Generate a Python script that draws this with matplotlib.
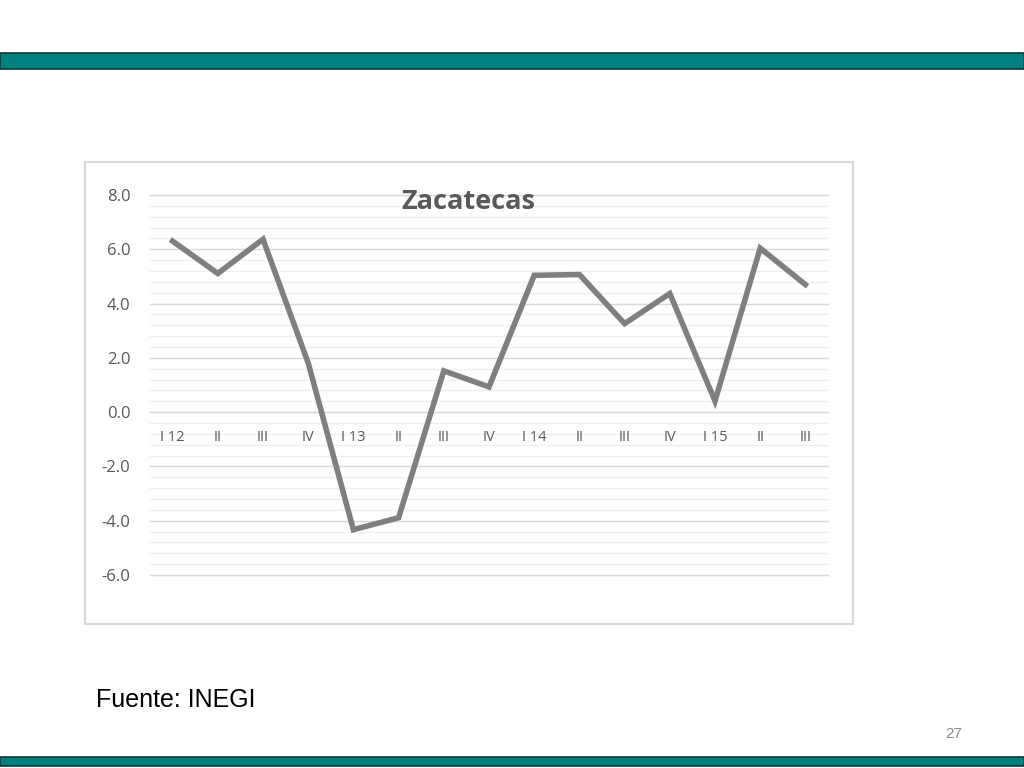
import matplotlib.pyplot as plt
from matplotlib.patches import Rectangle
import numpy as np

# Zacatecas quarterly values
quarters = ["I 12", "II", "III", "IV", "I 13", "II", "III", "IV",
            "I 14", "II", "III", "IV", "I 15", "II", "III"]
values = [6.30, 5.11, 6.37, 1.81, -4.33, -3.89, 1.52, 0.93,
          5.04, 5.07, 3.26, 4.37, 0.41, 6.04, 4.70]
y_ticks = [8.0, 6.0, 4.0, 2.0, 0.0, -2.0, -4.0, -6.0]

teal = "#008080"
text_grey = "#595959"

fig = plt.figure(figsize=(10.24, 7.68), dpi=100)
fig.patch.set_facecolor("white")

# teal header / footer bars
fig.patches.append(Rectangle((0, 1 - 69 / 768), 1, 16 / 768, transform=fig.transFigure,
                             facecolor=teal, edgecolor="#0b3b3b", linewidth=1.2))
fig.patches.append(Rectangle((0, 1 - 766 / 768), 1, 9 / 768, transform=fig.transFigure,
                             facecolor=teal, edgecolor="#0b3b3b", linewidth=1.2))

# chart frame
fig.patches.append(Rectangle((85 / 1024, 1 - 624 / 768), 768 / 1024, 462 / 768,
                             transform=fig.transFigure, facecolor="none",
                             edgecolor="#d9d9d9", linewidth=1.5, zorder=-1))

ax = fig.add_axes([150 / 1024, 1 - 575 / 768, 678 / 1024, 380 / 768])
x = np.arange(len(quarters))

# category labels sit just under the zero line
ax.spines["bottom"].set_position(("data", 0))
for s in ["top", "right", "left", "bottom"]:
    ax.spines[s].set_visible(False)
ax.set_facecolor("none")

# gridlines: major every 2, minor every 0.4
for yv in np.arange(-6.0, 8.01, 0.4):
    ax.axhline(yv, color="#efefef", linewidth=0.9, zorder=0, clip_on=False)
for yv in y_ticks:
    ax.axhline(yv, color="#d9d9d9", linewidth=1.0, zorder=1, clip_on=False)

ax.plot(x, values, color="#7f7f7f", linewidth=4.0, solid_joinstyle="miter", zorder=3)

ax.set_xlim(-0.5, len(quarters) - 0.5)
ax.set_ylim(-6, 8)
ax.set_yticks(y_ticks)
ax.set_yticklabels([f"{v:.1f}" for v in y_ticks], fontsize=12,
                   color=text_grey, family="Open Sans")
ax.tick_params(axis="y", length=0, pad=14, labelcolor=text_grey)

ax.set_xticks(x)
ax.set_xticklabels(quarters, fontsize=10.5, color=text_grey, family="Open Sans")
ax.tick_params(axis="x", length=0, pad=13, labelcolor=text_grey)

fig.text(468 / 1024, 1 - 202 / 768, "Zacatecas", ha="center", va="center",
         fontsize=19.5, fontweight="bold", color=text_grey, family="Open Sans")

fig.text(96 / 1024, 1 - 700 / 768, "Fuente: INEGI", ha="left", va="center",
         fontsize=18, color="black", family="Liberation Sans")
fig.text(962 / 1024, 1 - 734 / 768, "27", ha="right", va="center",
         fontsize=11, color="#8c8c8c", family="Liberation Sans")

fig.savefig("out.png", dpi=100)
